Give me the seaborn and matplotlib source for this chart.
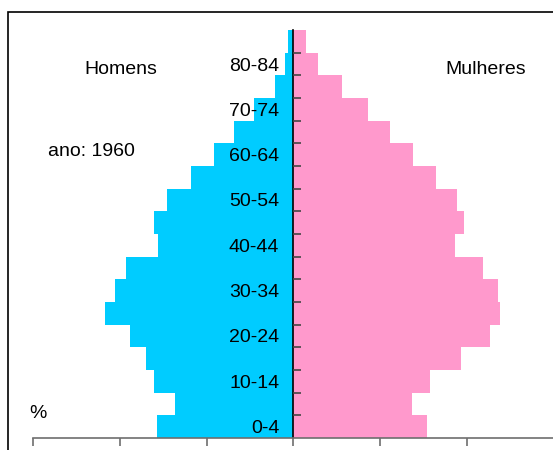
import matplotlib
matplotlib.use("Agg")
import matplotlib.pyplot as plt
from matplotlib.patches import Rectangle
import numpy as np
import pandas as pd
import seaborn as sns

# age groups, top (oldest) to bottom (youngest)
age_groups = ["85+", "80-84", "75-79", "70-74", "65-69", "60-64", "55-59",
              "50-54", "45-49", "40-44", "35-39", "30-34", "25-29", "20-24",
              "15-19", "10-14", "5-9", "0-4"]
# share of total population (%)
homens = [0.11, 0.19, 0.42, 0.91, 1.37, 1.83, 2.36, 2.91, 3.20, 3.12,
          3.86, 4.11, 4.34, 3.76, 3.40, 3.20, 2.73, 3.15]
mulheres = [0.29, 0.56, 1.12, 1.73, 2.24, 2.77, 3.28, 3.77, 3.93, 3.72,
            4.38, 4.71, 4.76, 4.54, 3.86, 3.15, 2.73, 3.08]
x_ticks = [-6, -4, -2, 0, 2, 4, 6]

COR_H = "#00CCFF"
COR_M = "#FF99CC"

sns.set_style("white")
plt.rcParams["font.family"] = ["Liberation Sans", "DejaVu Sans"]
plt.rcParams["text.color"] = "black"
plt.rcParams["ytick.color"] = "black"

df = pd.DataFrame({"idade": age_groups,
                   "homens": -np.array(homens),
                   "mulheres": mulheres})

W, H = 553, 450
fig = plt.figure(figsize=(W / 100, H / 100), dpi=100)
ax = fig.add_axes([33 / W, 1 - 438 / H, 520.5 / W, 408 / H])

sns.barplot(data=df, y="idade", x="homens", order=age_groups, orient="h",
            color=COR_H, width=1.0, saturation=1, linewidth=0, ax=ax)
sns.barplot(data=df, y="idade", x="mulheres", order=age_groups, orient="h",
            color=COR_M, width=1.0, saturation=1, linewidth=0, ax=ax)

ax.set_axisbelow(False)
ax.set_xlim(-6, 6)
ax.set_ylim(len(age_groups) - 0.5, -0.5)
ax.set_xlabel("")
ax.set_ylabel("")

# spines: vertical axis through 0, horizontal at the bottom
for s in ["top", "right"]:
    ax.spines[s].set_visible(False)
ax.spines["left"].set_position(("data", 0))
ax.spines["left"].set_color("black")
ax.spines["left"].set_linewidth(1.2)
ax.spines["bottom"].set_color("#6e6e6e")
ax.spines["bottom"].set_linewidth(1.2)

ax.set_xticks(x_ticks)
ax.set_xticklabels([])
ax.tick_params(axis="x", bottom=True, direction="out", length=6, width=1.2,
               color="#6e6e6e")

# age labels every other group, boundary ticks as minor ticks
pos = np.arange(len(age_groups))
ax.set_yticks(pos)
ax.set_yticklabels([a if i % 2 == 1 else "" for i, a in enumerate(age_groups)],
                   fontsize=14, color="black")
ax.tick_params(axis="y", which="major", left=False, length=0, pad=10)
ax.set_yticks(pos[:-1] + 0.5, minor=True)
ax.tick_params(axis="y", which="minor", left=True, direction="in", length=6,
               width=1.2, color="#444444")

fig.text(121 / W, 1 - 70 / H, "Homens", fontsize=14, ha="center", va="center")
fig.text(485.5 / W, 1 - 70 / H, "Mulheres", fontsize=14, ha="center", va="center")
fig.text(47.5 / W, 1 - 152 / H, "ano: 1960", fontsize=14, ha="left", va="center")
fig.text(29 / W, 1 - 414 / H, "%", fontsize=14, ha="left", va="center")

# outer frame (cut by the image edge on right/bottom)
fig.patches.append(Rectangle((8 / W, -0.5), 2, 1.5 - 12 / H,
                             transform=fig.transFigure, fill=False,
                             ec="black", lw=1.2))

fig.savefig("out.png", dpi=100)
